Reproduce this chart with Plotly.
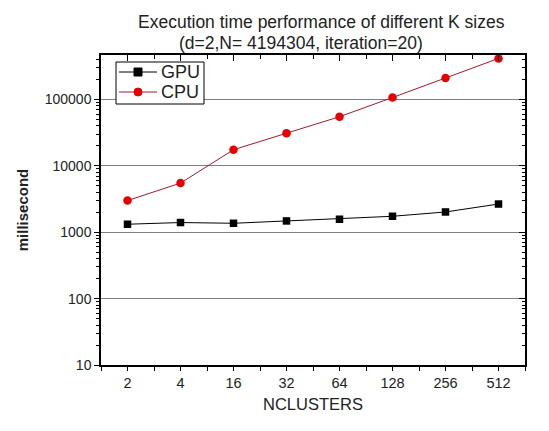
import plotly.graph_objects as go

nclusters = ["2", "4", "16", "32", "64", "128", "256", "512"]
gpu_ms = [1320, 1400, 1365, 1480, 1570, 1740, 2020, 2660]
cpu_ms = [3000, 5500, 17500, 31000, 55000, 107000, 210000, 415000]

title_1 = "Execution time performance of different K sizes"
title_2 = "(d=2,N= 4194304, iteration=20)"

pos = list(range(len(nclusters)))
yrange = [1, 5.67]
xrange = [-0.5, 7.5]
font = "Liberation Sans, Arial, sans-serif"

W, H = 549, 431
L, R, T, B = 101, 24, 55, 66
pw, ph = W - L - R, H - T - B

gpu_color, cpu_line, cpu_marker = "black", "#a01a30", "#e80000"


def px_x(xp):
    return (xp - L) / pw


def px_y(yp):
    return (H - yp - B) / ph


fig = go.Figure()
fig.add_trace(go.Scatter(
    x=pos, y=gpu_ms, name="GPU", mode="lines+markers",
    line=dict(color=gpu_color, width=1),
    marker=dict(symbol="square", size=7.5, color=gpu_color),
))
fig.add_trace(go.Scatter(
    x=pos, y=cpu_ms, name="CPU", mode="lines+markers",
    line=dict(color=cpu_line, width=1),
    marker=dict(symbol="circle", size=8.5, color=cpu_marker),
))
# invisible copy so the mirrored top/right axes get drawn
fig.add_trace(go.Scatter(
    x=pos, y=gpu_ms, xaxis="x2", yaxis="y2", mode="markers",
    marker=dict(opacity=0), showlegend=False, hoverinfo="skip",
))

# hand-drawn legend box (Origin style, compact)
shapes = [
    dict(type="rect", xref="paper", yref="paper",
         x0=px_x(116), x1=px_x(204), y0=px_y(104), y1=px_y(62),
         line=dict(color="black", width=1), fillcolor="white", layer="above"),
]
annotations = []
for name, row_y, lc, mc, sym in [("GPU", 72, gpu_color, gpu_color, "square"),
                                 ("CPU", 92, cpu_line, cpu_marker, "circle")]:
    shapes.append(dict(type="line", xref="paper", yref="paper",
                       x0=px_x(119), x1=px_x(157), y0=px_y(row_y), y1=px_y(row_y),
                       line=dict(color=lc, width=1), layer="above"))
    shapes.append(dict(type="rect" if sym == "square" else "circle",
                       xref="paper", yref="paper",
                       x0=px_x(134), x1=px_x(142), y0=px_y(row_y + 4), y1=px_y(row_y - 4),
                       line=dict(color=mc, width=1), fillcolor=mc, layer="above"))
    annotations.append(dict(text=name, x=px_x(159), y=px_y(row_y), xref="paper", yref="paper",
                            xanchor="left", yanchor="middle", showarrow=False,
                            font=dict(size=18, color="#222")))

annotations += [
    dict(text=title_1, x=px_x(321), y=px_y(22), xref="paper", yref="paper",
         xanchor="center", yanchor="middle",
         showarrow=False, font=dict(size=17.5, color="#222")),
    dict(text=title_2, x=px_x(301), y=px_y(43), xref="paper", yref="paper",
         xanchor="center", yanchor="middle",
         showarrow=False, font=dict(size=17.5, color="#222")),
]

fig.update_layout(
    width=W, height=H,
    margin=dict(l=L, r=R, t=T, b=B),
    paper_bgcolor="white", plot_bgcolor="white",
    font=dict(family=font, color="#222", size=14),
    showlegend=False,
    shapes=shapes,
    annotations=annotations,
    xaxis=dict(
        range=xrange, tickmode="array", tickvals=pos, ticktext=nclusters,
        ticks="outside", ticklen=4, tickcolor="black",
        minor=dict(dtick=0.5, tick0=-0.5, ticks="outside", ticklen=4, tickcolor="black"),
        showline=True, linecolor="black", linewidth=1.5,
        showgrid=False, zeroline=False,
        title=dict(text="NCLUSTERS", font=dict(size=16.5), standoff=8),
        tickfont=dict(size=14.5),
    ),
    yaxis=dict(
        type="log", range=yrange, dtick=1, tickformat="d",
        ticks="outside", ticklen=5, tickcolor="black",
        minor=dict(ticks="outside", ticklen=3, tickcolor="black", showgrid=False),
        showline=True, linecolor="black", linewidth=1.5,
        showgrid=True, gridcolor="#808080", gridwidth=1,
        zeroline=False,
        title=dict(text="<b>millisecond</b>", font=dict(size=15), standoff=12),
        tickfont=dict(size=14),
    ),
    xaxis2=dict(
        overlaying="x", side="top", range=xrange,
        tickmode="array", tickvals=pos, ticks="inside", ticklen=6, tickcolor="black",
        minor=dict(dtick=0.5, tick0=-0.5, ticks="inside", ticklen=4, tickcolor="black"),
        showticklabels=False, showline=True, linecolor="black", linewidth=1.5,
        showgrid=False, zeroline=False,
    ),
    yaxis2=dict(
        overlaying="y", side="right", type="log", range=yrange, dtick=1,
        ticks="inside", ticklen=6, tickcolor="black",
        minor=dict(ticks="inside", ticklen=3, tickcolor="black", showgrid=False),
        showticklabels=False, showline=True, linecolor="black", linewidth=1.5,
        showgrid=False, zeroline=False,
    ),
)

fig.write_html(
    "out.html",
    config={"displayModeBar": False},
    post_script="document.body.style.margin='0';",
)
